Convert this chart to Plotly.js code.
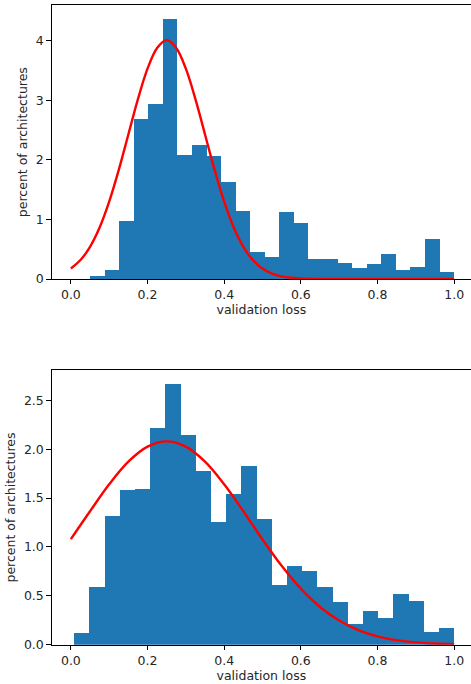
<!DOCTYPE html>
<html>
<head>
<meta charset="utf-8">
<script src="https://cdn.plot.ly/plotly-3.0.1.min.js"></script>
<style>html,body{margin:0;padding:0;background:#fff;}#chart{width:471px;height:684px;}</style>
</head>
<body>
<div id="chart"></div>
<script>
// ---- data ----
// Top histogram: 25 bins between these edges
const topBinLo = 0.05;
const topBinHi = 1.0;
const topHeights = [0.05, 0.15, 0.97, 2.69, 2.94, 4.36, 2.08, 2.25, 2.06, 1.63, 1.14, 0.45, 0.37,
                    1.12, 0.94, 0.34, 0.34, 0.27, 0.18, 0.25, 0.42, 0.15, 0.20, 0.67, 0.12];
// Top red curve
const topCurveX = [0, 0.025, 0.05, 0.075, 0.1, 0.125, 0.15, 0.175, 0.2, 0.225, 0.25, 0.275, 0.3, 0.325,
                   0.35, 0.375, 0.4, 0.425, 0.45, 0.475, 0.5, 0.525, 0.55, 0.575, 0.6, 0.625, 0.65,
                   0.7, 0.8, 0.9, 1.0];
const topCurveY = [0.176, 0.318, 0.541, 0.865, 1.299, 1.831, 2.426, 3.019, 3.530, 3.877, 4.01, 3.877, 3.530, 3.019,
                   2.426, 1.831, 1.299, 0.865, 0.541, 0.318, 0.176, 0.091, 0.044, 0.020, 0.009, 0.004, 0.001,
                   0, 0, 0, 0];
// Bottom histogram: 25 bins between these edges
const botBinLo = 0.0087;
const botBinHi = 1.0;
const botHeights = [0.116, 0.59, 1.32, 1.58, 1.59, 2.22, 2.67, 2.14, 1.78, 1.255, 1.54, 1.83, 1.29,
                    0.61, 0.805, 0.754, 0.59, 0.437, 0.21, 0.344, 0.273, 0.518, 0.447, 0.13, 0.17];
// Bottom red curve
const botCurveX = [0, 0.05, 0.1, 0.15, 0.2, 0.25, 0.3, 0.35, 0.4, 0.45, 0.5, 0.55, 0.6, 0.65, 0.7,
                   0.75, 0.8, 0.85, 0.9, 0.95, 1.0];
const botCurveY = [1.08, 1.365, 1.641, 1.872, 2.026, 2.08, 2.026, 1.872, 1.641, 1.365, 1.077, 0.807, 0.573,
                   0.386, 0.247, 0.150, 0.086, 0.047, 0.024, 0.012, 0.006];

const xTicks = [0, 0.2, 0.4, 0.6, 0.8, 1.0];
const topYTicks = [0, 1, 2, 3, 4];
const botYTicks = [0, 0.5, 1.0, 1.5, 2.0, 2.5];
const xLabel = 'validation loss';
const yLabel = 'percent of architectures';

// ---- build ----
function centers(lo, hi, n) {
  const w = (hi - lo) / n;
  const c = [];
  for (let i = 0; i < n; i++) c.push(lo + w * (i + 0.5));
  return {c: c, w: w};
}
const tb = centers(topBinLo, topBinHi, topHeights.length);
const bb = centers(botBinLo, botBinHi, botHeights.length);

const barColor = '#1f77b4';
const traces = [
  {type: 'bar', x: tb.c, y: topHeights, width: tb.w, marker: {color: barColor, line: {width: 0}},
   xaxis: 'x', yaxis: 'y', hoverinfo: 'skip'},
  {type: 'scatter', mode: 'lines', x: topCurveX, y: topCurveY, line: {color: 'red', width: 2.4, shape: 'spline', smoothing: 1},
   xaxis: 'x', yaxis: 'y', hoverinfo: 'skip'},
  {type: 'bar', x: bb.c, y: botHeights, width: bb.w, marker: {color: barColor, line: {width: 0}},
   xaxis: 'x2', yaxis: 'y2', hoverinfo: 'skip'},
  {type: 'scatter', mode: 'lines', x: botCurveX, y: botCurveY, line: {color: 'red', width: 2.4, shape: 'spline', smoothing: 1},
   xaxis: 'x2', yaxis: 'y2', hoverinfo: 'skip'}
];

const font = {family: 'DejaVu Sans', size: 12.5, color: '#262626'};
const H = 684, W = 471;
function axBase() {
  return {showline: true, mirror: true, linecolor: '#000', linewidth: 1, showgrid: false, zeroline: false,
          ticks: 'outside', ticklen: 4.4, tickwidth: 1, tickcolor: '#000', tickfont: font, automargin: false};
}
const xDom = [51.7 / W, 1];
const layout = {
  width: W, height: H,
  margin: {l: 0, r: 0, t: 0, b: 0},
  paper_bgcolor: '#fff', plot_bgcolor: '#fff',
  showlegend: false, bargap: 0, barmode: 'overlay',
  font: font,
  xaxis: Object.assign(axBase(), {domain: xDom, anchor: 'y', range: [-0.05, 1.044], tickvals: xTicks, tickformat: '.1f',
    title: {text: xLabel, font: font, standoff: 3}}),
  yaxis: Object.assign(axBase(), {domain: [1 - 279 / H, 1 - 5.3 / H], anchor: 'x', range: [0, 4.594], tickvals: topYTicks, tickformat: 'd',
    title: {text: yLabel, font: font, standoff: 5}}),
  xaxis2: Object.assign(axBase(), {domain: xDom, anchor: 'y2', range: [-0.05, 1.044], tickvals: xTicks, tickformat: '.1f',
    title: {text: xLabel, font: font, standoff: 3}}),
  yaxis2: Object.assign(axBase(), {domain: [1 - 644.7 / H, 1 - 370.3 / H], anchor: 'x2', range: [0, 2.807], tickvals: botYTicks, tickformat: '.1f',
    title: {text: yLabel, font: font, standoff: 5}})
};

Plotly.newPlot('chart', traces, layout, {staticPlot: true, displayModeBar: false});
</script>
</body>
</html>
